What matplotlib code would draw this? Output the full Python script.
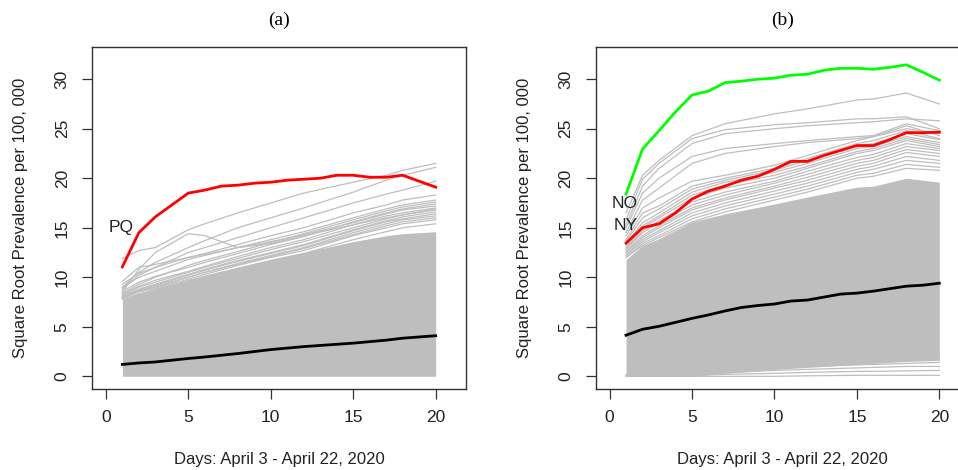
import matplotlib
matplotlib.use("Agg")
import matplotlib.pyplot as plt

# ---------------- data ----------------
days = list(range(1, 21))

# Panel (a)
pq_red = [11.05, 14.5, 16.1, 17.3, 18.5, 18.8, 19.2, 19.3, 19.5, 19.6,
          19.8, 19.9, 20.0, 20.3, 20.3, 20.1, 20.1, 20.3, 19.7, 19.1]
black_a = [1.2, 1.35, 1.45, 1.6, 1.8, 1.95, 2.1, 2.3, 2.5, 2.7,
           2.9, 3.0, 3.1, 3.25, 3.35, 3.45, 3.65, 3.85, 4.0, 4.1]
knots_a = [1, 2, 3, 5, 6, 8, 10, 12, 15, 17, 18, 20]
core_top_a = [7.8, 8.4, 8.9, 9.8, 10.2, 11.0, 11.8, 12.5, 13.6, 14.2, 14.4, 14.6]
gray_lines_a = [
    [11.9, 12.7, 13.0, 14.8, 15.4, 16.5, 17.5, 18.5, 19.6, 20.3, 20.8, 21.5],
    [9.0, 10.5, 11.5, 13.0, 13.7, 15.0, 16.0, 17.0, 18.6, 19.8, 20.3, 21.1],
    [8.8, 10.2, 11.0, 12.5, 13.0, 14.0, 15.0, 16.0, 17.5, 18.4, 18.8, 19.7],
    [8.5, 10.8, 12.5, 14.4, 14.2, 13.0, 13.4, 14.2, 15.3, 16.0, 16.3, 16.8],
    [9.3, 10.4, 11.0, 12.0, 12.4, 13.3, 14.2, 15.0, 16.5, 17.3, 17.8, 18.3],
    [9.0, 10.0, 10.6, 11.8, 12.2, 13.0, 13.8, 14.6, 16.0, 16.9, 17.3, 17.8],
    [8.6, 9.5, 10.1, 11.0, 11.5, 12.4, 13.3, 14.1, 15.6, 16.5, 16.9, 17.4],
    [8.3, 9.1, 9.7, 10.6, 11.1, 12.1, 13.0, 13.8, 15.3, 16.2, 16.5, 17.0],
    [8.1, 8.8, 9.3, 10.3, 10.8, 11.7, 12.5, 13.3, 14.8, 15.7, 16.1, 16.6],
    [8.0, 8.6, 9.1, 10.0, 10.5, 11.4, 12.2, 13.0, 14.5, 15.4, 15.8, 16.2],
    [7.9, 8.5, 8.9, 9.8, 10.3, 11.2, 12.0, 12.7, 14.2, 15.0, 15.4, 15.8],
    [7.8, 8.3, 8.7, 9.6, 10.1, 10.9, 11.7, 12.4, 13.8, 14.6, 15.0, 15.4],
    [9.6, 11.0, 11.3, 12.0, 12.3, 13.0, 13.6, 14.3, 15.5, 16.4, 16.8, 17.2],
    [8.4, 9.3, 10.0, 11.2, 11.7, 12.6, 13.5, 14.4, 15.8, 16.7, 17.1, 17.6],
    [8.2, 9.0, 9.5, 10.5, 11.0, 11.9, 12.8, 13.6, 15.0, 15.9, 16.3, 16.9],
    [8.0, 8.7, 9.2, 10.2, 10.7, 11.6, 12.4, 13.2, 14.7, 15.6, 15.9, 16.4],
    [7.9, 8.6, 9.0, 10.0, 10.5, 11.3, 12.1, 12.9, 14.3, 15.2, 15.6, 16.0],
]

# Panel (b)
no_green = [18.4, 22.95, 24.8, 26.7, 28.4, 28.8, 29.65, 29.8, 30.0, 30.1,
            30.4, 30.5, 30.9, 31.1, 31.1, 31.0, 31.2, 31.45, 30.7, 29.9]
ny_red = [13.45, 15.0, 15.4, 16.5, 17.9, 18.7, 19.2, 19.8, 20.2, 20.9,
          21.7, 21.7, 22.3, 22.8, 23.3, 23.3, 23.9, 24.6, 24.6, 24.65]
black_b = [4.15, 4.75, 5.05, 5.45, 5.85, 6.2, 6.6, 6.95, 7.15, 7.3,
           7.6, 7.7, 8.0, 8.3, 8.4, 8.6, 8.85, 9.1, 9.2, 9.4]
knots_b = [1, 2, 3, 5, 7, 10, 12, 15, 16, 18, 20]
core_top_b = [11.8, 13.2, 13.9, 15.6, 16.4, 17.4, 18.1, 19.1, 19.2, 20.0, 19.6]
core_bot_b = [0.0, 0.0, 0.0, 0.0, 0.3, 0.7, 0.9, 1.2, 1.3, 1.5, 1.6]
gray_lines_b = [
    [16.5, 20.3, 21.8, 24.3, 25.5, 26.5, 27.0, 27.9, 28.0, 28.6, 27.5],
    [15.8, 19.9, 21.5, 24.0, 24.9, 25.4, 25.6, 26.0, 26.0, 26.2, 25.0],
    [15.3, 19.2, 21.0, 23.5, 24.5, 25.0, 25.3, 25.6, 25.7, 26.0, 25.8],
    [15.0, 18.5, 20.0, 22.2, 23.0, 23.5, 23.8, 24.2, 24.3, 25.5, 24.8],
    [14.5, 17.8, 19.0, 21.5, 22.5, 23.2, 23.6, 24.0, 24.2, 25.0, 24.5],
    [14.2, 17.0, 18.0, 19.7, 20.3, 21.3, 22.3, 23.8, 24.2, 25.3, 24.3],
    [13.8, 16.5, 17.2, 19.2, 20.0, 21.0, 22.0, 23.5, 23.8, 24.8, 24.0],
    [13.6, 16.0, 16.9, 18.9, 19.8, 20.8, 21.8, 23.3, 23.5, 24.5, 23.9],
    [13.4, 15.5, 16.5, 18.6, 19.6, 20.6, 21.5, 23.0, 23.2, 24.2, 23.6],
    [13.2, 15.2, 16.2, 18.3, 19.3, 20.3, 21.2, 22.7, 23.0, 24.0, 23.4],
    [13.0, 15.0, 16.0, 18.0, 19.0, 20.0, 21.0, 22.5, 22.8, 23.8, 23.2],
    [12.9, 14.7, 15.7, 17.6, 18.6, 19.7, 20.7, 22.1, 22.4, 23.5, 23.0],
    [12.8, 14.5, 15.5, 17.3, 18.3, 19.5, 20.4, 21.8, 22.1, 23.2, 22.8],
    [12.6, 14.2, 15.2, 17.0, 18.0, 19.2, 20.1, 21.5, 21.8, 22.9, 22.5],
    [12.5, 14.0, 15.0, 16.8, 17.8, 19.0, 19.8, 21.2, 21.5, 22.6, 22.2],
    [12.3, 13.8, 14.7, 16.5, 17.5, 18.7, 19.5, 20.9, 21.2, 22.2, 21.8],
    [12.2, 13.6, 14.5, 16.2, 17.2, 18.4, 19.2, 20.6, 20.9, 21.8, 21.5],
    [12.0, 13.4, 14.2, 15.9, 16.9, 18.1, 18.9, 20.3, 20.5, 21.4, 21.1],
    [12.0, 13.2, 14.0, 15.6, 16.6, 17.8, 18.6, 20.0, 20.2, 21.0, 20.8],
    [0.0, 0.0, 0.0, 0.0, 0.0, 0.0, 0.05, 0.1, 0.1, 0.1, 0.1],
    [0.0, 0.0, 0.05, 0.1, 0.2, 0.3, 0.4, 0.5, 0.5, 0.55, 0.6],
    [0.05, 0.1, 0.15, 0.25, 0.35, 0.6, 0.7, 0.85, 0.9, 1.0, 1.0],
    [0.1, 0.15, 0.2, 0.35, 0.5, 0.8, 1.0, 1.15, 1.2, 1.3, 1.4],
    [0.15, 0.2, 0.3, 0.5, 0.7, 1.0, 1.2, 1.4, 1.5, 1.7, 1.8],
]

x_ticks = [0, 5, 10, 15, 20]
y_ticks = [0, 5, 10, 15, 20, 25, 30]
y_label = "Square Root Prevalence per 100, 000"
x_label = "Days: April 3 - April 22, 2020"

# ---------------- style ----------------
plt.rcParams['font.family'] = ['Liberation Sans', 'DejaVu Sans']
GRAY = '#BEBEBE'
TXT = '#222222'
W, H = 958, 470
fig = plt.figure(figsize=(W / 100, H / 100), dpi=100)

def make_ax(left_px):
    ax = fig.add_axes([left_px / W, 1 - 389 / H, 374 / W, 342.3 / H])
    ax.set_xlim(-0.84, 21.84)
    ax.set_ylim(-1.28, 33.28)
    ax.set_xticks(x_ticks)
    ax.set_yticks(y_ticks)
    ax.tick_params(direction='out', length=7, width=0.9, color='#333333',
                   labelsize=12.5, labelcolor=TXT)
    ax.tick_params(axis='x', pad=8)
    ax.tick_params(axis='y', pad=9)
    for lab in ax.get_yticklabels():
        lab.set_rotation(90)
        lab.set_va('center')
    for s in ax.spines.values():
        s.set_color('#333333')
        s.set_linewidth(1.0)
    ax.set_ylabel(y_label, fontsize=12, color=TXT)
    ax.yaxis.label.set_va('center')
    ax.yaxis.set_label_coords(-0.191, 0.5)
    ax.set_xlabel(x_label, fontsize=12, color=TXT)
    ax.xaxis.set_label_coords(0.5, -0.205)
    ax.xaxis.label.set_va('center')
    return ax

# Panel (a)
ax1 = make_ax(92)
ax1.fill_between(knots_a, 0, core_top_a, color=GRAY, lw=0)
for ln in gray_lines_a:
    ax1.plot(knots_a, ln, color=GRAY, lw=0.9)
ax1.plot(days, pq_red, color='#FF0000', lw=2.0)
ax1.plot(knots_a, [black_a[d - 1] for d in knots_a], color='black', lw=2.0)
ax1.text(0.9, 15.0, 'PQ', ha='center', va='center', fontsize=12.5, color=TXT)
ax1.text(0.5, 1.078, '(a)', transform=ax1.transAxes, ha='center', va='center',
         fontsize=14, family='Liberation Serif', color='black')

# Panel (b)
ax2 = make_ax(595.7)
ax2.fill_between(knots_b, core_bot_b, core_top_b, color=GRAY, lw=0)
for ln in gray_lines_b:
    ax2.plot(knots_b, ln, color=GRAY, lw=0.9)
ax2.plot(days, no_green, color='#00FF00', lw=2.0)
ax2.plot(days, ny_red, color='#FF0000', lw=2.0)
ax2.plot(days, black_b, color='black', lw=2.0)
ax2.text(0.93, 17.4, 'NO', ha='center', va='center', fontsize=12.5, color=TXT)
ax2.text(0.96, 15.2, 'NY', ha='center', va='center', fontsize=12.5, color=TXT)
ax2.text(0.5, 1.078, '(b)', transform=ax2.transAxes, ha='center', va='center',
         fontsize=14, family='Liberation Serif', color='black')

fig.savefig('out.png', dpi=100)
